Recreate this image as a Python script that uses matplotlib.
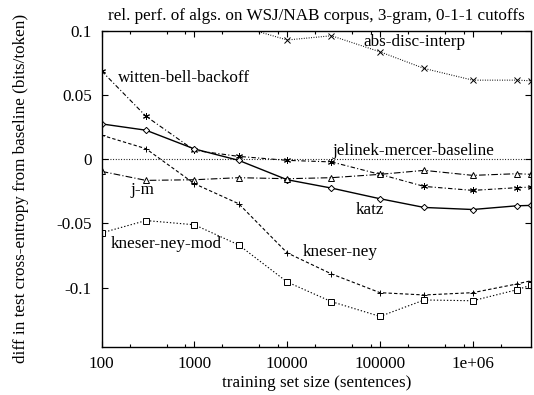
import matplotlib
matplotlib.use("Agg")
import matplotlib.pyplot as plt
from matplotlib.ticker import FixedLocator, FixedFormatter, NullFormatter

plt.rcParams['font.family'] = ['Liberation Serif', 'DejaVu Serif']

sizes = [100, 300, 1000, 3000, 10000, 30000, 100000, 300000, 1e6, 3e6, 4.3e6]

katz = [0.0276, 0.0227, 0.0081, -0.0008, -0.0159, -0.0224, -0.0307, -0.0375, -0.0391, -0.0362, -0.0359]
witten_bell = [0.0688, 0.0336, 0.0070, 0.0023, -0.0008, -0.0020, -0.0117, -0.0211, -0.0242, -0.0221, -0.0216]
jm = [-0.0094, -0.0164, -0.0159, -0.0143, -0.0151, -0.0143, -0.0117, -0.0086, -0.0125, -0.0112, -0.0117]
kneser_ney = [0.0188, 0.0083, -0.0190, -0.0346, -0.0729, -0.0893, -0.1039, -0.1057, -0.1039, -0.0971, -0.0945]
kneser_ney_mod = [-0.0573, -0.0477, -0.0510, -0.0667, -0.0956, -0.1109, -0.1224, -0.1096, -0.1102, -0.1016, -0.0979]
abs_disc = [0.160, 0.140, 0.120, 0.104, 0.0930, 0.0963, 0.0838, 0.0708, 0.0617, 0.0617, 0.0612]
baseline = [0.0] * len(sizes)

xticks = [100, 1000, 10000, 100000, 1e6]
xticklabels = ["100", "1000", "10000", "100000", "1e+06"]
yticks = [0.1, 0.05, 0.0, -0.05, -0.1]
yticklabels = ["0.1", "0.05", "0", "-0.05", "-0.1"]

title = "rel. perf. of algs. on WSJ/NAB corpus, 3-gram, 0-1-1 cutoffs"
xlabel = "training set size (sentences)"
ylabel = "diff in test cross-entropy from baseline (bits/token)"

fig = plt.figure(figsize=(5.34, 3.95), dpi=100)
ax = fig.add_axes([0.1904, 0.1223, 0.9944 - 0.1904, 0.9215 - 0.1223])
ax.set_xscale('log')

lw = 0.8
ms = 4
mew = 0.7
ax.plot(sizes, baseline, color='black', lw=lw, linestyle=(0, (0.8, 1.6)))
ax.plot(sizes, abs_disc, color='black', lw=lw, linestyle=(0, (0.8, 1.4)),
        marker='x', ms=ms, mew=mew)
ax.plot(sizes, witten_bell, color='black', lw=lw, linestyle=(0, (4, 2, 1, 2)),
        marker=(6, 2, 0), ms=ms + 1, mew=mew)
ax.plot(sizes, katz, color='black', lw=1.0, linestyle='-',
        marker='D', ms=3.2, mfc='white', mew=mew)
ax.plot(sizes, jm, color='black', lw=lw, linestyle=(0, (6, 2, 1, 2)),
        marker='^', ms=ms, mfc='white', mew=mew)
ax.plot(sizes, kneser_ney, color='black', lw=lw, linestyle=(0, (3, 2)),
        marker='+', ms=ms + 1, mew=mew)
ax.plot(sizes, kneser_ney_mod, color='black', lw=lw, linestyle=(0, (1.2, 1.8)),
        marker='s', ms=ms, mfc='white', mew=mew)

fs = 12.3
ax.text(65500, 0.0914, "abs-disc-interp", fontsize=fs, ha='left', va='center')
ax.text(150, 0.0635, "witten-bell-backoff", fontsize=fs, ha='left', va='center')
ax.text(31000, 0.0065, "jelinek-mercer-baseline", fontsize=fs, ha='left', va='center')
ax.text(202, -0.0242, "j-m", fontsize=fs, ha='left', va='center')
ax.text(54500, -0.0393, "katz", fontsize=fs, ha='left', va='center')
ax.text(125, -0.0659, "kneser-ney-mod", fontsize=fs, ha='left', va='center')
ax.text(14800, -0.0724, "kneser-ney", fontsize=fs, ha='left', va='center')

ax.set_xlim(100, 4.25e6)
ax.set_ylim(-0.146, 0.1)

ax.xaxis.set_major_locator(FixedLocator(xticks))
ax.xaxis.set_major_formatter(FixedFormatter(xticklabels))
minors = []
for d in [100, 1000, 10000, 100000, 1e6]:
    for m in [2, 5, 8]:
        if d * m <= 4.25e6:
            minors.append(d * m)
ax.xaxis.set_minor_locator(FixedLocator(minors))
ax.xaxis.set_minor_formatter(NullFormatter())
ax.yaxis.set_major_locator(FixedLocator(yticks))
ax.yaxis.set_major_formatter(FixedFormatter(yticklabels))
ax.yaxis.set_minor_locator(FixedLocator([]))

ax.tick_params(which='both', direction='in', top=True, right=True, labelsize=fs,
               width=0.8, color='black')
ax.tick_params(axis='y', which='major', length=4.5, pad=7)
ax.tick_params(axis='x', which='major', length=4.5, pad=7)
ax.tick_params(which='minor', length=2.5)
for s in ax.spines.values():
    s.set_linewidth(1.0)
    s.set_color('black')

ax.set_title(title, fontsize=fs, pad=8)
ax.set_xlabel(xlabel, fontsize=fs, labelpad=2)
ax.set_ylabel(ylabel, fontsize=fs, labelpad=20)

fig.savefig("out.png", dpi=100)
